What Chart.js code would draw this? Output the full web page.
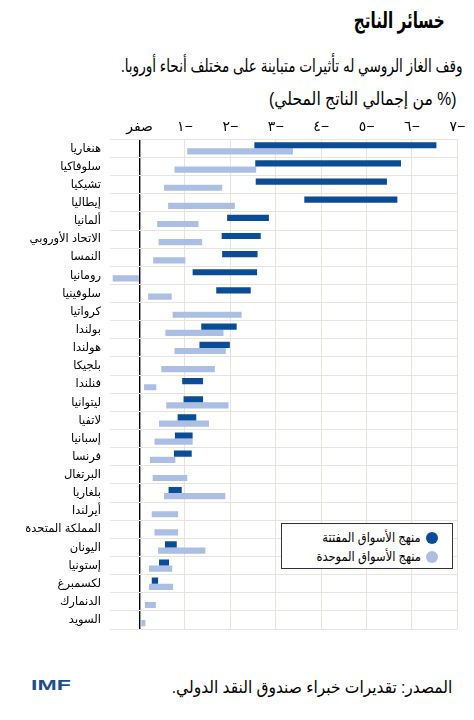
<!DOCTYPE html>
<html lang="ar">
<head>
<meta charset="utf-8">
<script src="https://cdn.jsdelivr.net/npm/chart.js@4.4.1/dist/chart.umd.min.js"></script>
<style>
  body { margin: 0; background: #fff; font-family: "Liberation Sans", "DejaVu Sans", sans-serif; color: #000; }
  #page { position: relative; width: 474px; height: 720px; overflow: hidden; }
  .txt { position: absolute; direction: rtl; white-space: nowrap; transform-origin: right center; }
  #title { right: 29px; top: 8px; font-size: 22px; font-weight: bold; transform: scaleX(0.69); }
  #subtitle { right: 11px; top: 55px; font-size: 18px; transform: scaleX(0.755); }
  #units { right: 18px; top: 88px; font-size: 18px; transform: scaleX(0.87); }
  #chartBox { position: absolute; left: 0; top: 110px; width: 474px; height: 535px; }
  #legend { position: absolute; left: 281px; top: 523px; width: 170px; height: 44px; border: 1.5px solid #333; background: #fff; }
  .item { position: absolute; right: 14px; direction: rtl; font-size: 13.5px; white-space: nowrap; }
  .item span.t { display: inline-block; transform: scaleX(0.85); transform-origin: right center; }
  .dot { display: inline-block; width: 12px; height: 12px; border-radius: 50%; vertical-align: middle; margin-left: 5px; }
  #source { right: 22px; top: 677px; font-size: 17px; transform: scaleX(0.91); }
  #imf { position: absolute; left: 31px; top: 678px; font-size: 14px; line-height: 14px; font-weight: bold; color: #1d4f8f; transform: scaleX(1.65); transform-origin: left center; }
</style>
</head>
<body>
<div id="page">
  <div class="txt" id="title">خسائر الناتج</div>
  <div class="txt" id="subtitle">وقف الغاز الروسي له تأثيرات متباينة على مختلف أنحاء أوروبا.</div>
  <div class="txt" id="units">(% من إجمالي الناتج المحلي)</div>
  <div id="chartBox"><canvas id="lossChart"></canvas></div>
  <div id="legend">
    <div class="item" style="top:5px"><span class="dot" style="background:#0b4c97"></span><span class="t">منهج الأسواق المفتتة</span></div>
    <div class="item" style="top:24px"><span class="dot" style="background:#aabfe3"></span><span class="t">منهج الأسواق الموحدة</span></div>
  </div>
  <div class="txt" id="source">المصدر: تقديرات خبراء صندوق النقد الدولي.</div>
  <div id="imf">IMF</div>
</div>
<script>
// categories, top to bottom
const countries = [
  "هنغاريا", "سلوفاكيا", "تشيكيا", "إيطاليا", "ألمانيا", "الاتحاد الأوروبي",
  "النمسا", "رومانيا", "سلوفينيا", "كرواتيا", "بولندا", "هولندا", "بلجيكا",
  "فنلندا", "ليتوانيا", "لاتفيا", "إسبانيا", "فرنسا", "البرتغال", "بلغاريا",
  "أيرلندا", "المملكة المتحدة", "اليونان", "إستونيا", "لكسمبرغ", "الدنمارك", "السويد",
];

// fragmented markets approach (dark bars): range from / to, % of GDP
const fragmentedFrom = [
  -2.53, -2.55, -2.56, -3.63, -1.93, -1.81, -1.82, -1.17, -1.69, null, -1.36, -1.32, null,
  -0.94, -0.97, -0.84, -0.78, -0.76, null, -0.64, null, null, -0.56, -0.43, -0.27, null, null,
];
const fragmentedTo = [
  -6.54, -5.76, -5.45, -5.68, -2.85, -2.67, -2.60, -2.59, -2.45, null, -2.14, -1.99, null,
  -1.40, -1.40, -1.25, -1.17, -1.15, null, -0.93, null, null, -0.82, -0.65, -0.41, null, null,
];

// integrated markets approach (light bars)
const integratedFrom = [
  -1.05, -0.77, -0.54, -0.63, -0.39, -0.42, -0.30, 0.59, -0.19, -0.73, -0.57, -0.77, -0.48,
  -0.10, -0.59, -0.43, -0.33, -0.23, -0.29, -0.54, -0.27, -0.33, -0.41, -0.21, -0.21, -0.12, -0.04,
];
const integratedTo = [
  -3.38, -2.57, -1.82, -2.10, -1.30, -1.38, -1.01, 0, -0.71, -2.25, -1.85, -1.90, -1.66,
  -0.37, -1.96, -1.53, -1.17, -0.79, -1.05, -1.89, -0.85, -0.85, -1.45, -0.72, -0.74, -0.36, -0.13,
];

// axis ticks
const xTickValues = [0, -1, -2, -3, -4, -5, -6, -7];
const xTickLabels = ["صفر", "١−", "٢−", "٣−", "٤−", "٥−", "٦−", "٧−"];

const pairs = (a, b) => a.map((v, i) => (v === null ? null : [v, b[i]]));

const gridColor = "#e7e4db";
const font = { family: '"Liberation Sans", "DejaVu Sans", sans-serif' };

const data = {
  labels: countries,
  datasets: [
    {
      label: "منهج الأسواق المفتتة",
      data: pairs(fragmentedFrom, fragmentedTo),
      backgroundColor: "#0b4c97",
      borderWidth: 0,
      borderSkipped: false,
      categoryPercentage: 0.68,
      barPercentage: 1.0,
    },
    {
      label: "منهج الأسواق الموحدة",
      data: pairs(integratedFrom, integratedTo),
      backgroundColor: "#aabfe3",
      borderWidth: 0,
      borderSkipped: false,
      categoryPercentage: 0.68,
      barPercentage: 1.0,
    },
  ],
};

const config = {
  type: "bar",
  data: data,
  options: {
    indexAxis: "y",
    responsive: true,
    maintainAspectRatio: false,
    animation: false,
    layout: { padding: { left: 0, right: 16.7, top: 0, bottom: 5.7 } },
    plugins: {
      legend: { display: false },
      tooltip: { enabled: false },
    },
    scales: {
      x: {
        type: "linear",
        position: "top",
        reverse: true,
        min: -7,
        max: 0.65,
        afterBuildTicks: (scale) => {
          scale.ticks = xTickValues.map((v) => ({ value: v }));
        },
        afterFit: (scale) => {
          scale.height = 29.3;
        },
        border: { display: false },
        grid: {
          drawTicks: false,
          color: (ctx) => (ctx.tick && ctx.tick.value === 0 ? "#000" : gridColor),
          lineWidth: (ctx) => (ctx.tick && ctx.tick.value === 0 ? 1.4 : 1),
        },
        ticks: {
          padding: 4,
          color: "#000",
          font: { ...font, size: 14 },
          callback: (v) => xTickLabels[Math.round(-v)],
        },
      },
      y: {
        type: "category",
        afterFit: (scale) => {
          scale.width = 110;
        },
        border: { display: false },
        grid: { drawTicks: false, color: gridColor, offset: true },
        ticks: {
          padding: 9,
          color: "#000",
          font: { ...font, size: 11.5 },
        },
      },
    },
  },
};

const lossChart = new Chart(document.getElementById("lossChart"), config);
</script>
</body>
</html>
